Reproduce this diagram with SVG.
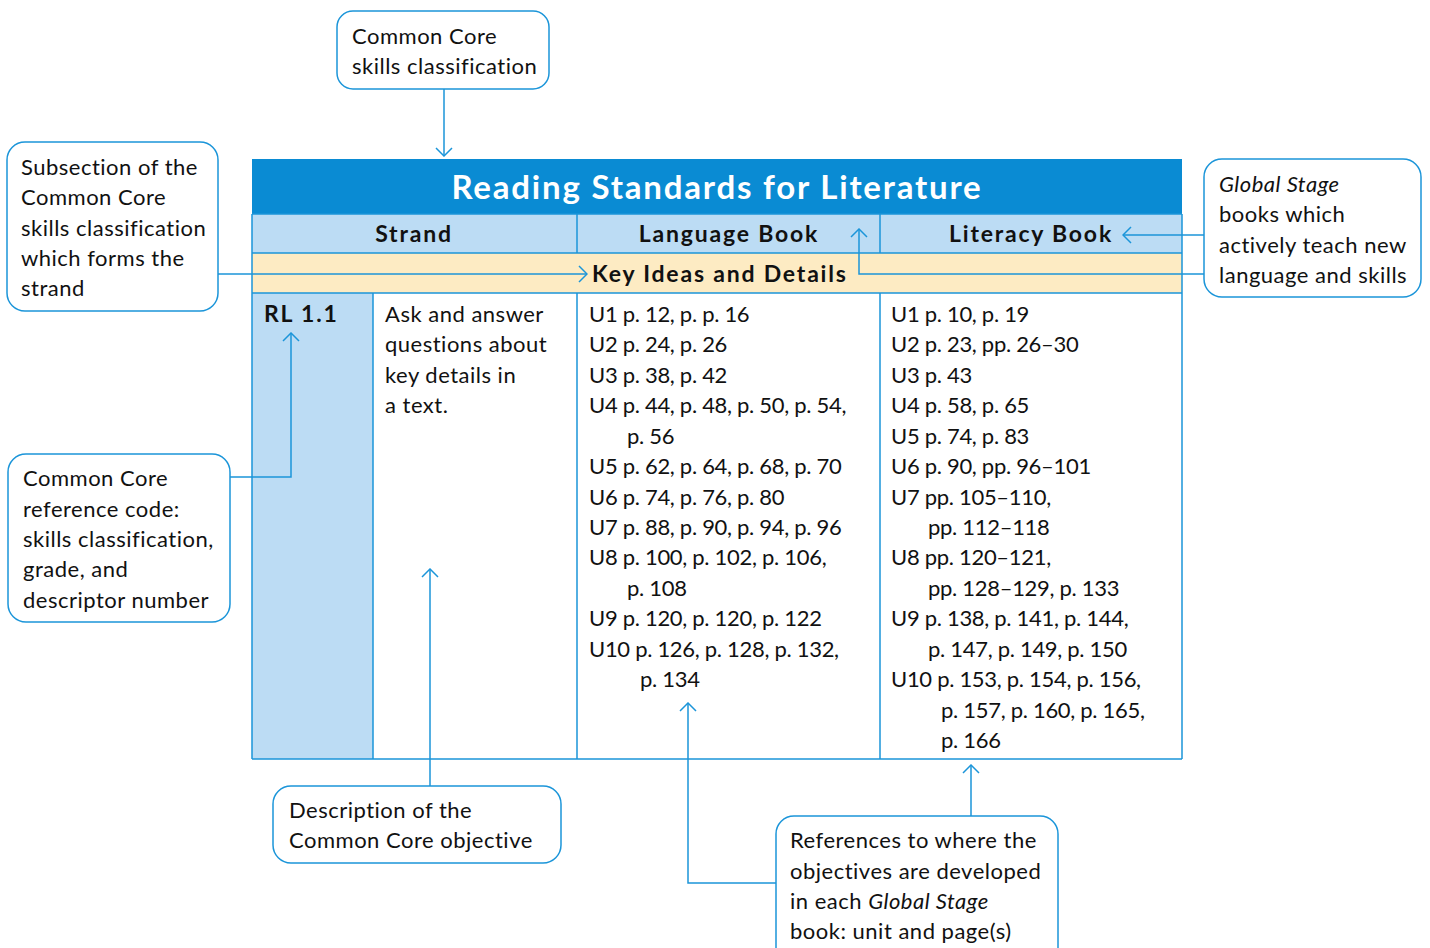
<svg xmlns="http://www.w3.org/2000/svg" width="1430" height="948" viewBox="0 0 1430 948">
<style>
.t{font-family:Lato,"Liberation Sans",sans-serif;font-size:22px;fill:#111;letter-spacing:0.5px}
.p{letter-spacing:-0.3px}
.b{font-weight:bold;font-size:23px;letter-spacing:1.8px}
.i{font-style:italic}
.box{fill:#fff;stroke:#1b95d9;stroke-width:1.5}
.ln{fill:none;stroke:#1b95d9;stroke-width:1.5}
.grid{fill:none;stroke:#1b95d9;stroke-width:1.5}
</style>
<defs>
<marker id="ah" markerUnits="userSpaceOnUse" viewBox="0 0 10 18" refX="9" refY="9" markerWidth="10" markerHeight="18" orient="auto">
<path d="M1,1 L9,9 L1,17" fill="none" stroke="#1b95d9" stroke-width="1.5"/>
</marker>
</defs>
<rect width="1430" height="948" fill="#fff"/>
<g id="table">
<rect x="252" y="159" width="930" height="55" fill="#0a8bd3"/>
<rect x="252" y="214" width="930" height="39" fill="#bcdcf4"/>
<rect x="252" y="253" width="930" height="40" fill="#fdebc3"/>
<rect x="252" y="293" width="121" height="466" fill="#bcdcf4"/>
<path class="grid" d="M252,214 H1182 M252,253 H1182 M252,293 H1182 M252,759 H1182 M252,214 V759 M1182,214 V759 M373,293 V759 M577,214 V253 M577,293 V759 M880,214 V253 M880,293 V759"/>
<text class="t b" x="717" y="199" text-anchor="middle" style="font-size:33px;letter-spacing:1.8px;fill:#fff">Reading Standards for Literature</text>
<text class="t b" x="414" y="242" text-anchor="middle">Strand</text>
<text class="t b" x="729" y="242" text-anchor="middle">Language Book</text>
<text class="t b" x="1031" y="242" text-anchor="middle">Literacy Book</text>
<text class="t b" x="592" y="282">Key Ideas and Details</text>
<text class="t b" x="264" y="322">RL 1.1</text>
<text class="t" x="385" y="322">Ask and answer</text>
<text class="t" x="385" y="352.4">questions about</text>
<text class="t" x="385" y="382.9">key details in</text>
<text class="t" x="385" y="413.3">a text.</text>
<g class="t p">
<text x="589" y="322">U1 p. 12, p. p. 16</text>
<text x="589" y="352.4">U2 p. 24, p. 26</text>
<text x="589" y="382.9">U3 p. 38, p. 42</text>
<text x="589" y="413.3">U4 p. 44, p. 48, p. 50, p. 54,</text>
<text x="627" y="443.7">p. 56</text>
<text x="589" y="474.1">U5 p. 62, p. 64, p. 68, p. 70</text>
<text x="589" y="504.6">U6 p. 74, p. 76, p. 80</text>
<text x="589" y="535">U7 p. 88, p. 90, p. 94, p. 96</text>
<text x="589" y="565.4">U8 p. 100, p. 102, p. 106,</text>
<text x="627" y="595.9">p. 108</text>
<text x="589" y="626.3">U9 p. 120, p. 120, p. 122</text>
<text x="589" y="656.7">U10 p. 126, p. 128, p. 132,</text>
<text x="640" y="687.1">p. 134</text>
<text x="891" y="322">U1 p. 10, p. 19</text>
<text x="891" y="352.4">U2 p. 23, pp. 26–30</text>
<text x="891" y="382.9">U3 p. 43</text>
<text x="891" y="413.3">U4 p. 58, p. 65</text>
<text x="891" y="443.7">U5 p. 74, p. 83</text>
<text x="891" y="474.1">U6 p. 90, pp. 96–101</text>
<text x="891" y="504.6">U7 pp. 105–110,</text>
<text x="928" y="535">pp. 112–118</text>
<text x="891" y="565.4">U8 pp. 120–121,</text>
<text x="928" y="595.9">pp. 128–129, p. 133</text>
<text x="891" y="626.3">U9 p. 138, p. 141, p. 144,</text>
<text x="928" y="656.7">p. 147, p. 149, p. 150</text>
<text x="891" y="687.1">U10 p. 153, p. 154, p. 156,</text>
<text x="941" y="717.6">p. 157, p. 160, p. 165,</text>
<text x="941" y="748">p. 166</text>
</g>
</g>
<g id="connectors">
<path class="ln" d="M444,89 V156" marker-end="url(#ah)"/>
<path class="ln" d="M218,274 H587" marker-end="url(#ah)"/>
<path class="ln" d="M1204,235 H1123" marker-end="url(#ah)"/>
<path class="ln" d="M1204,274 H859 V229" marker-end="url(#ah)"/>
<path class="ln" d="M230,477 H291 V333" marker-end="url(#ah)"/>
<path class="ln" d="M430,786 V569" marker-end="url(#ah)"/>
<path class="ln" d="M776,883 H688 V703" marker-end="url(#ah)"/>
<path class="ln" d="M971,816 V765" marker-end="url(#ah)"/>
</g>
<g id="callout-classification">
<rect class="box" x="337" y="11" width="212" height="78" rx="16"/>
<text class="t" x="352" y="44">Common Core</text>
<text class="t" x="352" y="74">skills classification</text>
</g>
<g id="callout-subsection">
<rect class="box" x="7" y="142" width="211" height="169" rx="18"/>
<text class="t" x="21" y="175">Subsection of the</text>
<text class="t" x="21" y="205">Common Core</text>
<text class="t" x="21" y="236">skills classification</text>
<text class="t" x="21" y="266">which forms the</text>
<text class="t" x="21" y="296">strand</text>
</g>
<g id="callout-books">
<rect class="box" x="1204" y="159" width="217" height="138" rx="18"/>
<text class="t i" x="1219" y="192">Global Stage</text>
<text class="t" x="1219" y="222">books which</text>
<text class="t" x="1219" y="253">actively teach new</text>
<text class="t" x="1219" y="283">language and skills</text>
</g>
<g id="callout-code">
<rect class="box" x="8" y="454" width="222" height="168" rx="18"/>
<text class="t" x="23" y="486">Common Core</text>
<text class="t" x="23" y="517">reference code:</text>
<text class="t" x="23" y="547">skills classification,</text>
<text class="t" x="23" y="577">grade, and</text>
<text class="t" x="23" y="608">descriptor number</text>
</g>
<g id="callout-description">
<rect class="box" x="273" y="786" width="288" height="77" rx="18"/>
<text class="t" x="289" y="818">Description of the</text>
<text class="t" x="289" y="848">Common Core objective</text>
</g>
<g id="callout-references">
<rect class="box" x="776" y="816" width="282" height="150" rx="18"/>
<text class="t" x="790" y="848">References to where the</text>
<text class="t" x="790" y="879">objectives are developed</text>
<text class="t" x="790" y="909">in each <tspan class="i">Global Stage</tspan></text>
<text class="t" x="790" y="939">book: unit and page(s)</text>
</g>
</svg>
